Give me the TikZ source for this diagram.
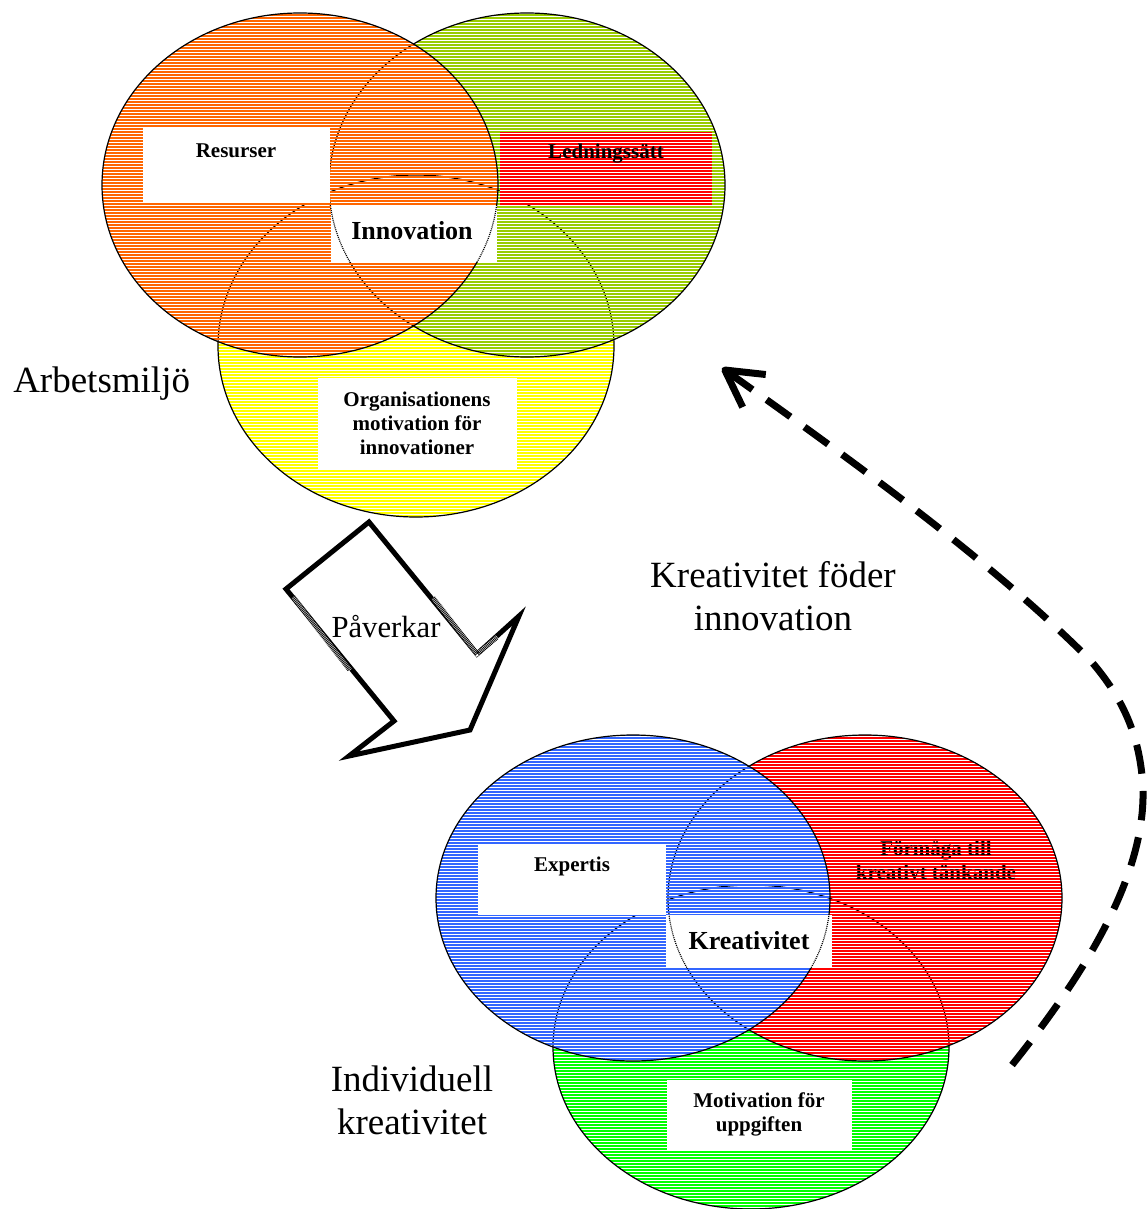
\documentclass[tikz,border=0pt]{standalone}
\usepackage{fontspec}
\setmainfont{Liberation Serif}
\usepackage{tikz}
\usetikzlibrary{arrows.meta}

\definecolor{hOrange}{RGB}{255,102,0}
\definecolor{hLime}{RGB}{153,204,0}
\definecolor{hYellow}{RGB}{255,255,0}
\definecolor{hBlue}{RGB}{51,102,255}
\definecolor{hRed}{RGB}{255,0,0}
\definecolor{hGreen}{RGB}{0,255,0}

\begin{document}
\begin{tikzpicture}[x=0.75pt,y=0.75pt,yscale=-1,xscale=1,
  hatch/.style={line width=1pt},
  rim/.style={draw=black,line width=0.9pt},
  dotrim/.style={draw=black,line width=0.9pt,dash pattern=on 0.75pt off 0.75pt},
  bigtext/.style={inner sep=0.75pt,align=center,font=\fontsize{27.75}{32}\selectfont},
  midbold/.style={inner sep=0.75pt,align=center,font=\fontsize{19.5}{22}\selectfont\bfseries},
  smallbold/.style={inner sep=0.75pt,align=center,font=\fontsize{15.75}{18}\selectfont\bfseries},
  bigarrow/.style={line width=3.75pt,line join=miter}]
\path[use as bounding box] (0,0) rectangle (1148,1209);

%Shape: Ellipse (yellow)
\begin{scope}
\clip (416,346) ellipse (198 and 171);
\foreach \y in {174,177,...,519} \draw[hatch,hYellow] (210,\y) -- (620,\y);
\end{scope}
\draw[rim] (416,346) ellipse (198 and 171);
%Shape: Ellipse (lime)
\begin{scope}
\clip (527,185) ellipse (198 and 172);
\foreach \y in {12,15,...,360} \draw[hatch,hLime] (320,\y) -- (730,\y);
\end{scope}
\draw[rim] (527,185) ellipse (198 and 172);
%Shape: Ellipse (orange)
\begin{scope}
\clip (300,185) ellipse (198 and 172);
\foreach \y in {12,15,...,360} \draw[hatch,hOrange] (95,\y) -- (505,\y);
\end{scope}
\draw[rim] (300,185) ellipse (198 and 172);

%Shape: Rectangle (Resurser)
\fill[white] (143,128) rectangle (330,203);
%Shape: Rectangle (Ledningssatt)
\fill[white] (500,133) rectangle (712,205);
\begin{scope}
\clip (500,133) rectangle (712,205);
\foreach \y in {132,135,...,207} \draw[hatch,hRed] (500,\y) -- (712,\y);
\end{scope}
%Shape: Rectangle (Innovation)
\fill[white] (331,205) rectangle (497,262);
\begin{scope}
\clip (331,205) rectangle (497,262);
\draw[dotrim] (300,185) ellipse (198 and 172);
\draw[dotrim] (527,185) ellipse (198 and 172);
\end{scope}
%Shape: Rectangle (Organisationens)
\fill[white] (318,378) rectangle (517,470);

% Text Node
\draw (236,151) node (resurser) [smallbold] {Resurser};
% Text Node
\draw (606,154) node (ledning) [smallbold] {Ledningssätt};
% Text Node
\draw (412,231) node (innovation) [midbold] {Innovation};
% Text Node
\draw (417,423) node (orgmotiv) [smallbold] {Organisationens\\motivation för\\innovationer};
% Text Node
\draw (12,384) node (arbetsmiljo) [bigtext,anchor=west] {Arbetsmiljö};

%Shape: Block Arrow
\draw[bigarrow,fill=white] (369,522) -- (286,589) -- (394,721) -- (349,756) -- (470,730) -- (519,616) -- (477,654) -- cycle;
\draw[white,line width=3pt] (293,597) -- (350,670);
\draw[line width=3.75pt,dash pattern=on 0.6pt off 0.6pt] (293,597) -- (350,670);
\draw[white,line width=3pt] (433,598) -- (477,654) -- (497,637);
\draw[line width=3.75pt,dash pattern=on 0.6pt off 0.6pt] (433,598) -- (477,654) -- (497,637);
% Text Node
\draw (386,627) node (paverkar) [inner sep=0.75pt,font=\fontsize{23}{26}\selectfont] {Påverkar};

% Text Node
\draw (773,596) node (foder) [bigtext] {Kreativitet föder\\innovation};

%Shape: Ellipse (green)
\begin{scope}
\clip (751,1047) ellipse (198 and 162);
\foreach \y in {882,885,...,1212} \draw[hatch,hGreen] (545,\y) -- (955,\y);
\end{scope}
\draw[rim] (751,1047) ellipse (198 and 162);
%Shape: Ellipse (red)
\begin{scope}
\clip (865,898) ellipse (197 and 163);
\foreach \y in {732,735,...,1065} \draw[hatch,hRed] (660,\y) -- (1070,\y);
\end{scope}
\draw[rim] (865,898) ellipse (197 and 163);
% Text Node
\draw (936,860) node (formaga) [smallbold] {Förmåga till\\kreativt tänkande};
\begin{scope}
\clip (850,836) rectangle (1022,884);
\foreach \y in {837,840,...,885} \draw[hRed,line width=0.45pt] (850,\y) -- (1022,\y);
\end{scope}
%Shape: Ellipse (blue)
\begin{scope}
\clip (633,898) ellipse (197 and 163);
\foreach \y in {732,735,...,1065} \draw[hatch,hBlue] (430,\y) -- (840,\y);
\end{scope}
\draw[rim] (633,898) ellipse (197 and 163);

%Shape: Rectangle (Expertis)
\fill[white] (478,845) rectangle (666,915);
%Shape: Rectangle (Kreativitet)
\fill[white] (666,915) rectangle (832,968);
\begin{scope}
\clip (666,915) rectangle (832,968);
\draw[dotrim] (633,898) ellipse (197 and 163);
\draw[dotrim] (865,898) ellipse (197 and 163);
\end{scope}
%Shape: Rectangle (Motivation)
\fill[white] (667,1080) rectangle (852,1150);

% Text Node
\draw (572,866) node (expertis) [smallbold] {Expertis};
% Text Node
\draw (749,941) node (kreativitet) [midbold] {Kreativitet};
% Text Node
\draw (759,1114) node (motivation) [smallbold] {Motivation för\\uppgiften};
% Text Node
\draw (412,1100) node (individuell) [bigtext] {Individuell\\kreativitet};

%Curve Lines (dashed)
\coordinate (kreaStart) at (1012,1065);
\coordinate (innoTip) at (722,368);
\draw[line width=5.25pt,dash pattern=on 22pt off 13pt,-{Straight Barb[length=27pt,width=30pt,line join=round]}]
  (kreaStart) .. controls (1080,980) and (1145,880) .. (1143,790)
  .. controls (1141,740) and (1125,700) .. (1090,660)
  .. controls (1000,570) and (880,480) .. (innoTip);

\end{tikzpicture}
\end{document}
